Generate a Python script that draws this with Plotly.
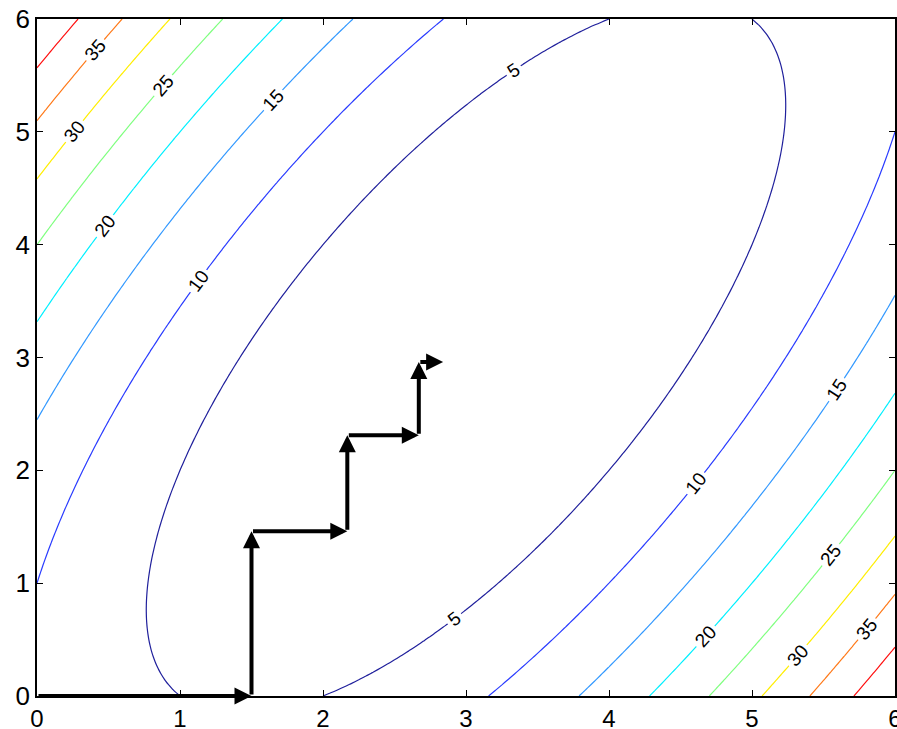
import numpy as np
import plotly.graph_objects as go

# Contour surface: f(x, y) = (x - y)^2 + (x - 3)^2, sampled on a grid
x_grid = np.linspace(0, 6, 121)
y_grid = np.linspace(0, 6, 121)
X, Y = np.meshgrid(x_grid, y_grid)
Z = (X - Y) ** 2 + (X - 3.0) ** 2

contour_levels = [5, 10, 15, 20, 25, 30, 35, 40]
level_colors = ["#20209c", "#2a3cff", "#3399ff", "#00f0ff",
                "#80ff80", "#ffee00", "#ff7a1a", "#ff1010"]

# Coordinate-descent path
path_x = [0.0, 1.5, 1.5, 2.17, 2.17, 2.67, 2.67, 2.84]
path_y = [0.0, 0.0, 1.46, 1.46, 2.31, 2.31, 2.96, 2.96]

tick_vals = [0, 1, 2, 3, 4, 5, 6]

n = len(contour_levels)
colorscale = [[i / (n - 1), c] for i, c in enumerate(level_colors)]

fig = go.Figure()
fig.add_trace(go.Contour(
    x=x_grid, y=y_grid, z=Z,
    zmin=contour_levels[0], zmax=contour_levels[-1],
    autocontour=False,
    contours=dict(start=contour_levels[0], end=contour_levels[-1], size=5,
                  coloring="lines", showlabels=True,
                  labelfont=dict(family="Liberation Sans Narrow, Liberation Sans, Arial, sans-serif",
                                 size=19, color="black")),
    colorscale=colorscale,
    line=dict(width=1.2),
    showscale=False,
    hoverinfo="skip",
))

annotations = []
for i in range(len(path_x) - 1):
    annotations.append(dict(
        x=path_x[i + 1], y=path_y[i + 1], ax=path_x[i], ay=path_y[i],
        xref="x", yref="y", axref="x", ayref="y",
        showarrow=True, arrowhead=2, arrowsize=0.85, arrowwidth=4,
        arrowcolor="black", text="", standoff=0,
    ))

font_family = "Liberation Sans Narrow, Liberation Sans, Arial, sans-serif"
axis_common = dict(
    range=[0, 6], tickvals=tick_vals, ticks="inside", ticklen=6,
    tickcolor="black", tickwidth=1, showline=True, linecolor="black",
    linewidth=1.5, mirror="ticks", showgrid=False, zeroline=False,
    automargin=False, ticklabeloverflow="allow",
)

fig.update_layout(
    width=897, height=729,
    margin=dict(l=37, r=2, t=19, b=33),
    plot_bgcolor="white", paper_bgcolor="white",
    xaxis=dict(axis_common, tickfont=dict(family=font_family, size=24, color="black")),
    yaxis=dict(axis_common, tickfont=dict(family=font_family, size=26, color="black")),
    annotations=annotations,
    showlegend=False,
)

fig.write_html(
    "out.html",
    config={"displayModeBar": False},
    post_script="document.body.style.margin='0';document.body.style.padding='0';"
                "document.body.style.overflow='hidden';"
                "document.documentElement.style.overflow='hidden';",
)
